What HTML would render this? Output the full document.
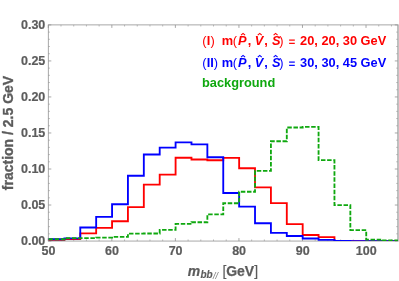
<!DOCTYPE html>
<html><head><meta charset="utf-8"><style>
html,body{margin:0;padding:0;background:#fff;}
svg{display:block;font-family:"Liberation Sans",sans-serif;will-change:transform;}
.tl text{font-size:12.5px;font-weight:bold;fill:#5c5c5c;stroke:#5c5c5c;stroke-width:0.2px;}
</style></head><body>
<svg width="399" height="281" viewBox="0 0 399 281">
<rect x="48.3" y="24.9" width="349.5" height="216.15" fill="none" stroke="#929292" stroke-width="0.8"/>
<rect x="397.9" y="24.5" width="1.1" height="216.95000000000002" fill="#c0c0c0"/>
<g stroke="#929292" stroke-width="0.6" fill="none"><path stroke-width="0.8" d="M48.30,241.05 v-3.00 M48.30,24.90 v3.00"/><path stroke-width="0.6" d="M61.01,241.05 v-1.60 M61.01,24.90 v1.60"/><path stroke-width="0.6" d="M73.72,241.05 v-1.60 M73.72,24.90 v1.60"/><path stroke-width="0.6" d="M86.43,241.05 v-1.60 M86.43,24.90 v1.60"/><path stroke-width="0.6" d="M99.14,241.05 v-1.60 M99.14,24.90 v1.60"/><path stroke-width="0.8" d="M111.85,241.05 v-3.00 M111.85,24.90 v3.00"/><path stroke-width="0.6" d="M124.55,241.05 v-1.60 M124.55,24.90 v1.60"/><path stroke-width="0.6" d="M137.26,241.05 v-1.60 M137.26,24.90 v1.60"/><path stroke-width="0.6" d="M149.97,241.05 v-1.60 M149.97,24.90 v1.60"/><path stroke-width="0.6" d="M162.68,241.05 v-1.60 M162.68,24.90 v1.60"/><path stroke-width="0.8" d="M175.39,241.05 v-3.00 M175.39,24.90 v3.00"/><path stroke-width="0.6" d="M188.10,241.05 v-1.60 M188.10,24.90 v1.60"/><path stroke-width="0.6" d="M200.81,241.05 v-1.60 M200.81,24.90 v1.60"/><path stroke-width="0.6" d="M213.52,241.05 v-1.60 M213.52,24.90 v1.60"/><path stroke-width="0.6" d="M226.23,241.05 v-1.60 M226.23,24.90 v1.60"/><path stroke-width="0.8" d="M238.94,241.05 v-3.00 M238.94,24.90 v3.00"/><path stroke-width="0.6" d="M251.65,241.05 v-1.60 M251.65,24.90 v1.60"/><path stroke-width="0.6" d="M264.35,241.05 v-1.60 M264.35,24.90 v1.60"/><path stroke-width="0.6" d="M277.06,241.05 v-1.60 M277.06,24.90 v1.60"/><path stroke-width="0.6" d="M289.77,241.05 v-1.60 M289.77,24.90 v1.60"/><path stroke-width="0.8" d="M302.48,241.05 v-3.00 M302.48,24.90 v3.00"/><path stroke-width="0.6" d="M315.19,241.05 v-1.60 M315.19,24.90 v1.60"/><path stroke-width="0.6" d="M327.90,241.05 v-1.60 M327.90,24.90 v1.60"/><path stroke-width="0.6" d="M340.61,241.05 v-1.60 M340.61,24.90 v1.60"/><path stroke-width="0.6" d="M353.32,241.05 v-1.60 M353.32,24.90 v1.60"/><path stroke-width="0.8" d="M366.03,241.05 v-3.00 M366.03,24.90 v3.00"/><path stroke-width="0.6" d="M378.74,241.05 v-1.60 M378.74,24.90 v1.60"/><path stroke-width="0.6" d="M391.45,241.05 v-1.60 M391.45,24.90 v1.60"/><path stroke-width="0.8" d="M48.30,241.05 h3.00 M397.80,241.05 h-3.00"/><path stroke-width="0.6" d="M48.30,233.84 h1.60 M397.80,233.84 h-1.60"/><path stroke-width="0.6" d="M48.30,226.64 h1.60 M397.80,226.64 h-1.60"/><path stroke-width="0.6" d="M48.30,219.44 h1.60 M397.80,219.44 h-1.60"/><path stroke-width="0.6" d="M48.30,212.23 h1.60 M397.80,212.23 h-1.60"/><path stroke-width="0.8" d="M48.30,205.03 h3.00 M397.80,205.03 h-3.00"/><path stroke-width="0.6" d="M48.30,197.82 h1.60 M397.80,197.82 h-1.60"/><path stroke-width="0.6" d="M48.30,190.62 h1.60 M397.80,190.62 h-1.60"/><path stroke-width="0.6" d="M48.30,183.41 h1.60 M397.80,183.41 h-1.60"/><path stroke-width="0.6" d="M48.30,176.21 h1.60 M397.80,176.21 h-1.60"/><path stroke-width="0.8" d="M48.30,169.00 h3.00 M397.80,169.00 h-3.00"/><path stroke-width="0.6" d="M48.30,161.80 h1.60 M397.80,161.80 h-1.60"/><path stroke-width="0.6" d="M48.30,154.59 h1.60 M397.80,154.59 h-1.60"/><path stroke-width="0.6" d="M48.30,147.38 h1.60 M397.80,147.38 h-1.60"/><path stroke-width="0.6" d="M48.30,140.18 h1.60 M397.80,140.18 h-1.60"/><path stroke-width="0.8" d="M48.30,132.98 h3.00 M397.80,132.98 h-3.00"/><path stroke-width="0.6" d="M48.30,125.77 h1.60 M397.80,125.77 h-1.60"/><path stroke-width="0.6" d="M48.30,118.56 h1.60 M397.80,118.56 h-1.60"/><path stroke-width="0.6" d="M48.30,111.36 h1.60 M397.80,111.36 h-1.60"/><path stroke-width="0.6" d="M48.30,104.16 h1.60 M397.80,104.16 h-1.60"/><path stroke-width="0.8" d="M48.30,96.95 h3.00 M397.80,96.95 h-3.00"/><path stroke-width="0.6" d="M48.30,89.75 h1.60 M397.80,89.75 h-1.60"/><path stroke-width="0.6" d="M48.30,82.54 h1.60 M397.80,82.54 h-1.60"/><path stroke-width="0.6" d="M48.30,75.34 h1.60 M397.80,75.34 h-1.60"/><path stroke-width="0.6" d="M48.30,68.13 h1.60 M397.80,68.13 h-1.60"/><path stroke-width="0.8" d="M48.30,60.93 h3.00 M397.80,60.93 h-3.00"/><path stroke-width="0.6" d="M48.30,53.72 h1.60 M397.80,53.72 h-1.60"/><path stroke-width="0.6" d="M48.30,46.51 h1.60 M397.80,46.51 h-1.60"/><path stroke-width="0.6" d="M48.30,39.31 h1.60 M397.80,39.31 h-1.60"/><path stroke-width="0.6" d="M48.30,32.11 h1.60 M397.80,32.11 h-1.60"/><path stroke-width="0.8" d="M48.30,24.90 h3.00 M397.80,24.90 h-3.00"/></g>
<clipPath id="cp"><rect x="48.3" y="24.9" width="349.5" height="216.15"/></clipPath>
<g fill="none" stroke-linejoin="miter" clip-path="url(#cp)">
<path d="M48.50,239.78 L64.39,239.78 L64.39,239.06 L80.27,239.06 L80.27,233.37 L96.16,233.37 L96.16,227.90 L112.05,227.90 L112.05,221.28 L127.93,221.28 L127.93,207.16 L143.82,207.16 L143.82,184.56 L159.70,184.56 L159.70,174.62 L175.59,174.62 L175.59,157.70 L191.48,157.70 L191.48,159.50 L207.36,159.50 L207.36,160.22 L223.25,160.22 L223.25,157.84 L239.14,157.84 L239.14,168.28 L255.02,168.28 L255.02,187.44 L270.91,187.44 L270.91,203.13 L286.80,203.13 L286.80,224.08 L302.68,224.08 L302.68,234.96 L318.57,234.96 L318.57,237.12 L334.45,237.12 L334.45,241.22 L350.34,241.22 L350.34,241.22 L366.23,241.22 L366.23,241.22 L382.11,241.22 L382.11,241.22 L398.00,241.22" stroke="#ff0000" stroke-width="1.85"/>
<path d="M48.50,239.20 L64.39,239.20 L64.39,238.34 L80.27,238.34 L80.27,227.54 L96.16,227.54 L96.16,216.88 L112.05,216.88 L112.05,204.21 L127.93,204.21 L127.93,175.77 L143.82,175.77 L143.82,154.53 L159.70,154.53 L159.70,147.55 L175.59,147.55 L175.59,142.44 L191.48,142.44 L191.48,144.38 L207.36,144.38 L207.36,157.20 L223.25,157.20 L223.25,192.98 L239.14,192.98 L239.14,206.66 L255.02,206.66 L255.02,223.29 L270.91,223.29 L270.91,232.87 L286.80,232.87 L286.80,235.96 L302.68,235.96 L302.68,238.48 L318.57,238.48 L318.57,239.85 L334.45,239.85 L334.45,240.86 L350.34,240.86 L350.34,241.05 L366.23,241.05 L366.23,241.05 L382.11,241.05 L382.11,241.05 L398.00,241.05" stroke="#0000ff" stroke-width="1.85"/>
<path d="M48.50,239.28 L64.39,239.28 L64.39,238.12 L80.27,238.12 L80.27,238.12 L96.16,238.12 L96.16,237.62 L112.05,237.62 L112.05,236.83 L127.93,236.83 L127.93,233.66 L143.82,233.66 L143.82,233.52 L159.70,233.52 L159.70,229.84 L175.59,229.84 L175.59,223.94 L191.48,223.94 L191.48,222.28 L207.36,222.28 L207.36,214.44 L223.25,214.44 L223.25,203.28 L239.14,203.28 L239.14,191.76 L255.02,191.76 L255.02,170.80 L270.91,170.80 L270.91,141.21 L286.80,141.21 L286.80,127.53 L302.68,127.53 L302.68,126.81 L318.57,126.81 L318.57,160.08 L334.45,160.08 L334.45,205.15 L350.34,205.15 L350.34,230.06 L366.23,230.06 L366.23,239.64 L382.11,239.64 L382.11,240.43 L398.00,240.43" stroke="#0fa80f" stroke-width="1.85" stroke-dasharray="4.5,1.65"/>
</g>
<g class="tl"><text x="48.50" y="255.35" text-anchor="middle">50</text><text x="112.05" y="255.35" text-anchor="middle">60</text><text x="175.59" y="255.35" text-anchor="middle">70</text><text x="239.14" y="255.35" text-anchor="middle">80</text><text x="302.68" y="255.35" text-anchor="middle">90</text><text x="366.23" y="255.35" text-anchor="middle">100</text><text x="45.3" y="244.90" text-anchor="end">0.00</text><text x="45.3" y="208.90" text-anchor="end">0.05</text><text x="45.3" y="172.90" text-anchor="end">0.10</text><text x="45.3" y="136.90" text-anchor="end">0.15</text><text x="45.3" y="100.90" text-anchor="end">0.20</text><text x="45.3" y="64.90" text-anchor="end">0.25</text><text x="45.3" y="28.90" text-anchor="end">0.30</text></g>
<g fill="#ff0000" font-size="12.8" font-weight="bold"><text x="202.25" y="45.3" font-weight="normal">(</text><text x="206.75" y="45.3">I</text><text x="210.50" y="45.3" font-weight="normal">)</text><text x="221.8" y="45.3">m</text><text x="232.75" y="45.3" font-weight="normal">(</text><text x="238.05" y="45.3" font-style="italic">P</text><text x="247.8" y="45.3">,</text><text x="254.8" y="45.3" font-style="italic">V</text><text x="264.3" y="45.3">,</text><text x="272.0" y="45.3" font-style="italic">S</text><text x="279.2" y="45.3" font-weight="normal">)</text><rect x="289.1" y="39.50" width="5.7" height="1.2"/><rect x="289.1" y="42.75" width="5.7" height="1.2"/><text x="300.1" y="45.3">20, 20, 30 GeV</text><path d="M241.05,35.20 l2,-1.8 l2,1.8" fill="none" stroke="#ff0000" stroke-width="1.1"/><path d="M257.75,35.20 l2,-1.8 l2,1.8" fill="none" stroke="#ff0000" stroke-width="1.1"/><path d="M273.60,35.20 l2,-1.8 l2,1.8" fill="none" stroke="#ff0000" stroke-width="1.1"/></g><g fill="#0000ff" font-size="12.8" font-weight="bold"><text x="202.25" y="67.3" font-weight="normal">(</text><text x="206.75" y="67.3">II</text><text x="213.70" y="67.3" font-weight="normal">)</text><text x="221.8" y="67.3">m</text><text x="232.75" y="67.3" font-weight="normal">(</text><text x="238.05" y="67.3" font-style="italic">P</text><text x="247.8" y="67.3">,</text><text x="254.8" y="67.3" font-style="italic">V</text><text x="264.3" y="67.3">,</text><text x="272.0" y="67.3" font-style="italic">S</text><text x="279.2" y="67.3" font-weight="normal">)</text><rect x="289.1" y="61.50" width="5.7" height="1.2"/><rect x="289.1" y="64.75" width="5.7" height="1.2"/><text x="300.1" y="67.3">30, 30, 45 GeV</text><path d="M241.05,57.20 l2,-1.8 l2,1.8" fill="none" stroke="#0000ff" stroke-width="1.1"/><path d="M257.75,57.20 l2,-1.8 l2,1.8" fill="none" stroke="#0000ff" stroke-width="1.1"/><path d="M273.60,57.20 l2,-1.8 l2,1.8" fill="none" stroke="#0000ff" stroke-width="1.1"/></g><text x="202" y="87" fill="#0fa80f" font-size="12.8" font-weight="bold">background</text>
<g font-weight="bold" fill="#5c5c5c" stroke="#5c5c5c" stroke-width="0.35"><text transform="translate(13.2,133) rotate(-90)" text-anchor="middle" font-size="14">fraction / 2.5 GeV</text>
<text x="187.8" y="276.2" font-size="14" font-style="italic" stroke-width="0.2">m</text><text x="200.5" y="278.3" font-size="10" font-style="italic" stroke-width="0.15">bb</text><text x="213.0" y="278.8" font-size="9" font-style="italic" font-weight="normal" stroke="none" fill="#777">//</text><text x="222.4" y="276.2" font-size="14" font-weight="normal" stroke-width="0.15">[</text><text x="226.2" y="276.2" font-size="14" stroke-width="0.25">GeV</text><text x="254.3" y="276.2" font-size="14" font-weight="normal" stroke-width="0.15">]</text></g>
</svg>
</body></html>
